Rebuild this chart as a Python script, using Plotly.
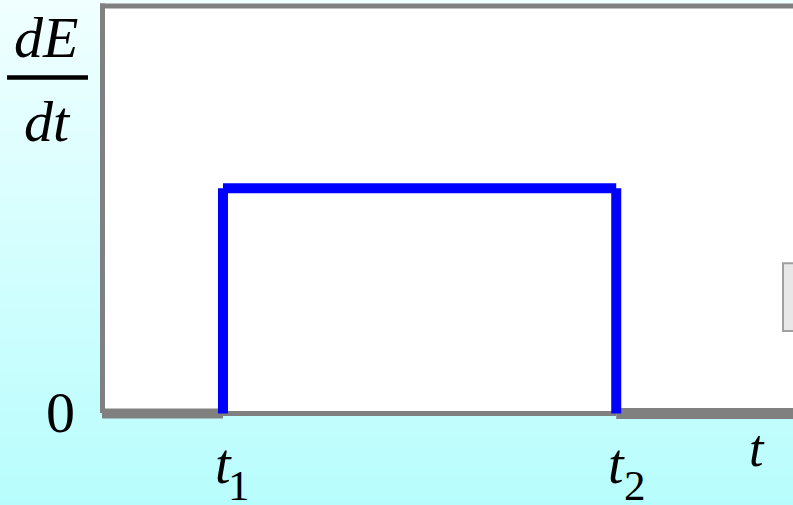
import plotly.graph_objects as go

# ---- data ----
t1 = 1.0
t2 = 4.25
t_max = 5.711
pulse_t = [t1, t1, None, t1, t2, None, t2, t2]
pulse_dEdt = [0, 1, None, 1, 1, None, 1, 0]
base_left_t = [0, t1]
base_mid_t = [t1, t2]
base_right_t = [t2, t_max]

W, H = 793, 505
ML, MR, MT, MB = 102, 0, 5.5, 80
PW = W - ML - MR
PH = H - MT - MB

def px(x):
    return (x - ML) / PW

def py(y):
    return (H - MB - y) / PH

# y mapping: y=0 at pixel 413.5, y=1 at pixel 188
Y0PX, Y1PX = 413.5, 188.0
SC = Y0PX - Y1PX
y_lo = -((H - MB) - Y0PX) / SC
y_hi = (Y0PX - MT) / SC

GRAY = "#808080"
BLUE = "#0000ff"
FONT = "Liberation Serif"

fig = go.Figure()

# baseline segments
for xs, w in [(base_left_t, 10), (base_mid_t, 5), (base_right_t, 11)]:
    fig.add_trace(go.Scatter(x=xs, y=[0, 0], mode="lines",
                             line=dict(color=GRAY, width=w), cliponaxis=False,
                             hoverinfo="skip", showlegend=False))
# pulse
fig.add_trace(go.Scatter(x=pulse_t, y=pulse_dEdt, mode="lines",
                         line=dict(color=BLUE, width=10), cliponaxis=False,
                         connectgaps=False, hoverinfo="skip", showlegend=False))

shapes = []
# background gradient
N = 80
c0 = (240, 255, 255)
c1 = (184, 253, 253)
for i in range(N):
    y0 = H * i / N
    y1 = H * (i + 1) / N + 0.6
    f = (i + 0.5) / N
    c = tuple(round(c0[k] + (c1[k] - c0[k]) * f) for k in range(3))
    shapes.append(dict(type="rect", xref="paper", yref="paper", layer="below",
                       x0=px(0), x1=px(W), y0=py(y1), y1=py(y0),
                       fillcolor="rgb(%d,%d,%d)" % c, line=dict(width=0)))
# white plot area
shapes.append(dict(type="rect", xref="paper", yref="paper", layer="below",
                   x0=px(100), x1=px(W), y0=py(411), y1=py(4),
                   fillcolor="white", line=dict(width=0)))
# frame left/top
shapes.append(dict(type="line", xref="paper", yref="paper", layer="above",
                   x0=px(102.5), x1=px(102.5), y0=py(413), y1=py(3),
                   line=dict(color=GRAY, width=5)))
shapes.append(dict(type="line", xref="paper", yref="paper", layer="above",
                   x0=px(100), x1=px(W), y0=py(5.5), y1=py(5.5),
                   line=dict(color=GRAY, width=5)))
# fraction bar
shapes.append(dict(type="line", xref="paper", yref="paper", layer="above",
                   x0=px(7), x1=px(88), y0=py(77), y1=py(77),
                   line=dict(color="black", width=4.5)))
# small grey box at right
shapes.append(dict(type="rect", xref="paper", yref="paper", layer="above",
                   x0=px(783), x1=px(W + 3), y0=py(331), y1=py(263),
                   fillcolor="#e8e8e8", line=dict(color="#a0a0a0", width=2)))

ann = []
def text(s, x, y, size):
    ann.append(dict(text=s, xref="paper", yref="paper", x=px(x), y=py(y),
                    xanchor="center", yanchor="middle", showarrow=False,
                    font=dict(family=FONT, size=size, color="black")))

text("<i>dE</i>", 46, 37, 58)
text("<i>dt</i>", 47.5, 121, 58)
text("0", 60, 412.5, 58)
text("<i>t</i>", 756.5, 449, 52)
text("<i>t</i>", 223.5, 464, 56)
text("1", 239, 486, 43)
text("<i>t</i>", 616.5, 464, 56)
text("2", 635, 486, 43)

fig.update_layout(
    width=W, height=H,
    margin=dict(l=ML, r=MR, t=MT, b=MB, pad=0),
    paper_bgcolor="rgb(240,255,255)", plot_bgcolor="rgba(0,0,0,0)",
    shapes=shapes, annotations=ann, showlegend=False,
    xaxis=dict(range=[0, t_max], visible=False, fixedrange=True),
    yaxis=dict(range=[y_lo, y_hi], visible=False, fixedrange=True),
)
fig.write_html("out.html", config={"displayModeBar": False},
               post_script="document.body.style.margin='0';document.body.style.overflow='hidden';")
